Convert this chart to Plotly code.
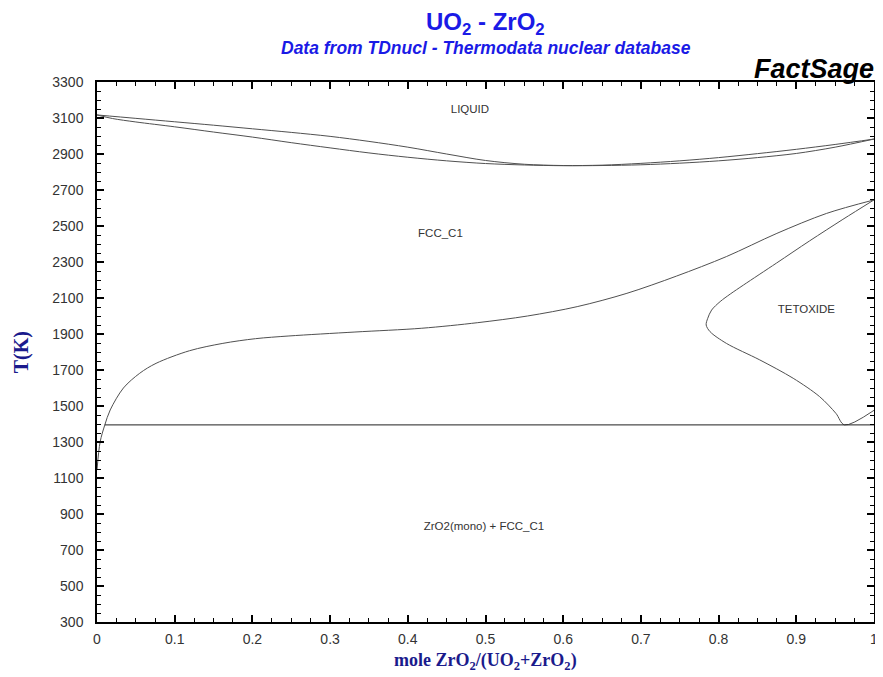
import plotly.graph_objects as go

# Liquidus (upper) and solidus (lower) of the liquid / FCC_C1 loop
liq_x = [0.0, 0.05, 0.1, 0.15, 0.2, 0.25, 0.3, 0.35, 0.4, 0.45, 0.5, 0.55, 0.6, 0.65, 0.7, 0.75, 0.8, 0.85, 0.9, 0.95, 1.0]
liq_T = [3117, 3098, 3079, 3060, 3040, 3020, 2998, 2970, 2938, 2900, 2864, 2843, 2836, 2838, 2848, 2862, 2880, 2902, 2926, 2953, 2983]
sol_x = [0.0, 0.02, 0.05, 0.1, 0.15, 0.2, 0.25, 0.3, 0.35, 0.4, 0.45, 0.5, 0.55, 0.6, 0.65, 0.7, 0.75, 0.8, 0.85, 0.9, 0.95, 1.0]
sol_T = [3117, 3097, 3078, 3051, 3022, 2994, 2963, 2934, 2906, 2882, 2862, 2847, 2839, 2835, 2836, 2840, 2849, 2862, 2880, 2903, 2938, 2983]

# FCC_C1 / (FCC_C1 + TETOXIDE) boundary
fcc_x = [0.0, 0.004, 0.010, 0.017, 0.034, 0.055, 0.076, 0.119, 0.162, 0.204, 0.247, 0.332, 0.418, 0.490, 0.554, 0.618, 0.682, 0.746, 0.810, 0.875, 0.939, 1.0]
fcc_T = [1145, 1300, 1394, 1478, 1600, 1682, 1737, 1807, 1848, 1874, 1889, 1911, 1932, 1963, 2000, 2052, 2126, 2222, 2330, 2459, 2570, 2645]

# TETOXIDE single-phase boundary (nose)
tet_x = [1.0, 0.960, 0.917, 0.8745, 0.832, 0.815, 0.802, 0.791, 0.786, 0.784, 0.789, 0.810, 0.853, 0.896, 0.930, 0.951, 0.962, 1.0]
tet_T = [2645, 2537, 2417, 2294, 2172, 2122, 2080, 2033, 1987, 1950, 1913, 1848, 1756, 1654, 1552, 1459, 1395, 1476]

# Eutectoid isotherm
eut_x = [0.010, 1.0]
eut_T = [1395, 1395]

# Region labels
lab_text = ["LIQUID", "FCC_C1", "TETOXIDE", "ZrO2(mono) + FCC_C1"]
lab_x = [0.480, 0.442, 0.913, 0.498]
lab_T = [3144, 2456, 2033, 828]

x_ticks = [0, 0.1, 0.2, 0.3, 0.4, 0.5, 0.6, 0.7, 0.8, 0.9, 1]
x_tick_text = ["0", "0.1", "0.2", "0.3", "0.4", "0.5", "0.6", "0.7", "0.8", "0.9", "1"]

line_style = dict(color="#505050", width=1)

fig = go.Figure()
for xs, ts in [(liq_x, liq_T), (sol_x, sol_T), (fcc_x, fcc_T), (tet_x, tet_T)]:
    fig.add_trace(go.Scatter(x=xs, y=ts, mode="lines", line=dict(shape="spline", smoothing=0.9, **line_style),
                             showlegend=False, hoverinfo="skip"))
fig.add_trace(go.Scatter(x=eut_x, y=eut_T, mode="lines", line=dict(color="#202020", width=1),
                         showlegend=False, hoverinfo="skip"))
fig.add_trace(go.Scatter(x=lab_x, y=lab_T, mode="text", text=lab_text,
                         textfont=dict(family="Liberation Sans", size=11.5, color="#333333"),
                         showlegend=False, hoverinfo="skip"))

axis_common = dict(
    showgrid=False, zeroline=False, showline=True, linecolor="black", linewidth=1.5,
    mirror="ticks", ticks="inside", ticklen=7, tickwidth=1.5, tickcolor="black",
    tickfont=dict(family="Liberation Sans", size=14, color="#333333"),
)

fig.update_xaxes(range=[0, 1], tickvals=x_ticks, ticktext=x_tick_text, ticklabelstandoff=3,
                 minor=dict(dtick=0.025, ticks="inside", ticklen=4, tickwidth=1, tickcolor="black"),
                 **axis_common)
fig.update_yaxes(range=[300, 3300], dtick=200, tick0=300, ticklabelstandoff=9,
                 minor=dict(dtick=50, ticks="inside", ticklen=4, tickwidth=1, tickcolor="black"),
                 **axis_common)

# The page body has an 8px margin, so the figure is offset by 8px.
fig.update_layout(
    width=875, height=669,
    margin=dict(l=89, r=5, t=74, b=55),
    plot_bgcolor="white", paper_bgcolor="white",
    annotations=[
        dict(text="<b>UO<sub>2</sub> - ZrO<sub>2</sub></b>", xref="paper", yref="paper", x=0.5, y=1.108,
             showarrow=False, font=dict(family="Liberation Sans", size=24, color="#1a1ae6"),
             xanchor="center", yanchor="middle"),
        dict(text="<b><i>Data from TDnucl - Thermodata nuclear database</i></b>", xref="paper", yref="paper",
             x=0.5, y=1.063, showarrow=False, font=dict(family="Liberation Sans", size=17.5, color="#1a1ae6"),
             xanchor="center", yanchor="middle"),
        dict(text="<b><i>FactSage</i></b>", xref="paper", yref="paper", x=1.0026, y=1.024,
             showarrow=False, font=dict(family="Liberation Sans", size=27, color="black"),
             xanchor="right", yanchor="middle"),
        dict(text="<b>mole ZrO<sub>2</sub>/(UO<sub>2</sub>+ZrO<sub>2</sub>)</b>", xref="paper", yref="paper",
             x=0.5, y=-0.074, showarrow=False, font=dict(family="Liberation Serif", size=18, color="#1a1a8c"),
             xanchor="center", yanchor="middle"),
        dict(text="<b>T(K)</b>", xref="paper", yref="paper", x=-0.0975, y=0.5, textangle=-90,
             showarrow=False, font=dict(family="Liberation Serif", size=20, color="#1a1a8c"),
             xanchor="center", yanchor="middle"),
    ],
)

fig.write_html("out.html")
